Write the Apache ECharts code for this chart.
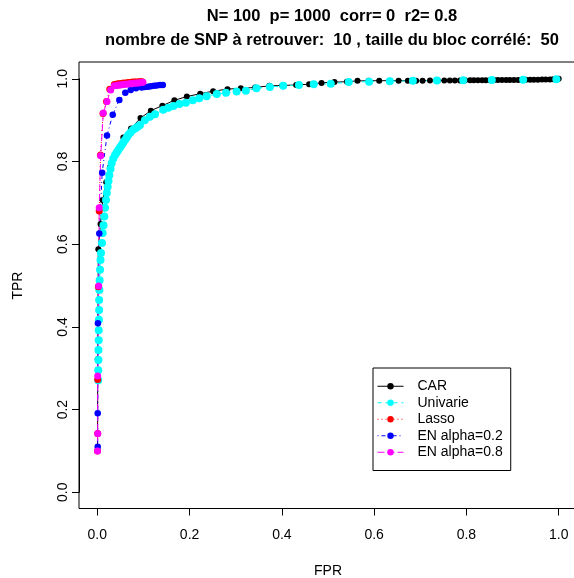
<!DOCTYPE html>
<html>
<head>
<meta charset="utf-8">
<script src="https://cdn.jsdelivr.net/npm/echarts@6/dist/echarts.min.js"></script>
<style>html,body{margin:0;padding:0;background:#fff;}#c{width:574px;height:578px;}</style>
</head>
<body>
<div id="c"></div>
<script>
var titleLines = ['N= 100  p= 1000  corr= 0  r2= 0.8', 'nombre de SNP \u00e0 retrouver:  10 , taille du bloc corr\u00e9l\u00e9:  50'];
var xTickLabels = ['0.0','0.2','0.4','0.6','0.8','1.0'];
var yTickLabels = ['0.0','0.2','0.4','0.6','0.8','1.0'];
var seriesNames = ['CAR','Univarie','Lasso','EN alpha=0.2','EN alpha=0.8'];

var carX = [0.0004,0.0009,0.0022,0.007,0.0117,0.0193,0.0275,0.0401,0.0564,0.073,0.0936,0.116,0.141,0.167,0.194,0.223,0.251,0.282,0.311,0.342,0.373,0.401,0.431,0.459,0.486,0.514,0.541,0.564,0.588,0.611,0.633,0.653,0.673,0.691,0.705,0.721,0.738,0.752,0.764,0.775,0.786,0.797,0.808,0.816,0.825,0.834,0.842,0.851,0.860,0.868,0.877,0.886,0.894,0.903,0.912,0.920,0.929,0.938,0.946,0.955,0.964,0.972,0.981,0.988,1.0];
var carY = [0.100,0.322,0.588,0.649,0.706,0.750,0.786,0.821,0.858,0.880,0.905,0.923,0.935,0.948,0.957,0.964,0.970,0.975,0.977,0.979,0.983,0.984,0.985,0.987,0.990,0.992,0.993,0.995,0.9952,0.9954,0.9954,0.9954,0.9954,0.9954,0.9955,0.9956,0.9956,0.9958,0.9958,0.996,0.996,0.9962,0.9962,0.9963,0.9964,0.9965,0.9966,0.9967,0.9968,0.9969,0.997,0.9971,0.9972,0.9973,0.9974,0.9975,0.9976,0.9977,0.9978,0.998,0.9982,0.9984,0.9985,0.9987,1.0];

var uniX = [0.002,0.002,0.0025,0.0025,0.003,0.003,0.0035,0.004,0.004,0.0045,0.005,0.006,0.007,0.008,0.0102,0.0117,0.0134,0.0152,0.0167,0.0189,0.0206,0.0225,0.0243,0.026,0.0286,0.0312,0.0347,0.0384,0.042,0.0455,0.0492,0.0529,0.0564,0.060,0.0637,0.0672,0.072,0.0767,0.0821,0.0876,0.0925,0.103,0.114,0.125,0.143,0.154,0.165,0.178,0.192,0.207,0.221,0.237,0.259,0.279,0.302,0.322,0.345,0.374,0.403,0.437,0.469,0.506,0.545,0.589,0.634,0.684,0.736,0.793,0.855,0.923,0.995];
var uniY = [0.271,0.295,0.320,0.344,0.368,0.392,0.417,0.441,0.465,0.489,0.513,0.538,0.562,0.579,0.603,0.627,0.646,0.667,0.688,0.707,0.724,0.739,0.753,0.767,0.782,0.796,0.807,0.816,0.822,0.828,0.834,0.840,0.846,0.852,0.858,0.864,0.870,0.876,0.880,0.884,0.888,0.900,0.908,0.914,0.925,0.930,0.934,0.939,0.942,0.948,0.953,0.958,0.963,0.966,0.969,0.971,0.977,0.980,0.983,0.985,0.987,0.988,0.992,0.993,0.994,0.995,0.996,0.9966,0.997,0.9978,0.9988];

var lasX = [0.0004,0.0009,0.0009,0.0022,0.0041,0.007,0.0124,0.020,0.027,0.0368,0.041,0.045,0.049,0.054,0.058,0.063,0.067,0.072,0.076,0.081,0.085,0.090,0.094,0.097];
var lasY = [0.100,0.142,0.273,0.497,0.680,0.816,0.916,0.945,0.975,0.986,0.987,0.988,0.988,0.989,0.990,0.990,0.991,0.991,0.992,0.992,0.9925,0.993,0.993,0.993];

var en2X = [0.0009,0.0009,0.0013,0.0043,0.0106,0.021,0.0334,0.0477,0.0607,0.0724,0.0839,0.0962,0.103,0.110,0.116,0.123,0.129,0.136,0.142];
var en2Y = [0.110,0.191,0.409,0.626,0.773,0.863,0.913,0.949,0.966,0.973,0.977,0.979,0.980,0.981,0.982,0.983,0.984,0.985,0.985];

var en8X = [0.0004,0.0009,0.0009,0.003,0.0041,0.0074,0.013,0.021,0.029,0.0368,0.043,0.047,0.051,0.056,0.060,0.064,0.069,0.073,0.077,0.082,0.086,0.090,0.095,0.099];
var en8Y = [0.100,0.142,0.281,0.499,0.688,0.814,0.917,0.945,0.973,0.983,0.984,0.985,0.985,0.986,0.987,0.987,0.988,0.988,0.989,0.989,0.990,0.990,0.991,0.9915];

function zip(a, b) { return a.map(function (v, i) { return [v, b[i]]; }); }

var FONT = 'Liberation Sans, Arial, sans-serif';
var chart = echarts.init(document.getElementById('c'), null, {renderer: 'canvas'});

function mk(name, xs, ys, color, dash, size) {
  return {
    name: name, type: 'line', data: zip(xs, ys), clip: false,
    symbol: 'circle', symbolSize: size, showSymbol: true,
    itemStyle: {color: color, borderWidth: 0},
    lineStyle: {color: color, width: 1, type: dash},
    emphasis: {disabled: true}, z: 2
  };
}

chart.setOption({
  animation: false,
  backgroundColor: '#fff',
  grid: {left: 97.3, top: 78.8, width: 461.4, height: 413.5, containLabel: false, outerBoundsMode: 'none'},
  xAxis: {
    type: 'value', min: 0, max: 1, interval: 0.2, offset: 16.2,
    axisLine: {show: true, onZero: false, lineStyle: {color: '#000', width: 1}},
    axisTick: {show: true, length: 7, lineStyle: {color: '#000'}},
    splitLine: {show: false},
    axisLabel: {margin: 20, fontSize: 14, fontFamily: FONT, color: '#000',
      formatter: function (v) { return xTickLabels[Math.round(v / 0.2)]; }},
    name: 'FPR', nameLocation: 'middle', nameGap: 56,
    nameTextStyle: {fontSize: 14, fontFamily: FONT, color: '#000'}
  },
  yAxis: {
    type: 'value', min: 0, max: 1, interval: 0.2, offset: 18.3,
    axisLine: {show: true, onZero: false, lineStyle: {color: '#000', width: 1}},
    axisTick: {show: true, length: 7, lineStyle: {color: '#000'}},
    splitLine: {show: false},
    axisLabel: {margin: 9, rotate: 90, fontSize: 14, fontFamily: FONT, color: '#000',
      formatter: function (v) { return yTickLabels[Math.round(v / 0.2)]; }},
    name: 'TPR', nameLocation: 'middle', nameGap: 54,
    nameTextStyle: {fontSize: 14, fontFamily: FONT, color: '#000'}
  },
  legend: {
    orient: 'vertical', left: 373, top: 368,
    padding: [10, 8, 10, 4], itemGap: 0, itemWidth: 26, itemHeight: 8,
    borderColor: '#000', borderWidth: 1, backgroundColor: '#fff',
    lineStyle: {width: 1},
    textStyle: {fontSize: 14, fontFamily: FONT, color: '#000', lineHeight: 16.5, padding: [0, 0, 0, 9]},
    data: seriesNames, selectedMode: false
  },
  graphic: [
    {type: 'rect', shape: {x: 79, y: 62, width: 498, height: 446.5},
     style: {fill: null, stroke: '#000', lineWidth: 1}, silent: true, z: 1},
    {type: 'text', x: 332, y: 8, style: {text: titleLines[0], font: 'bold 16.5px ' + FONT, fill: '#000', align: 'center'}},
    {type: 'text', x: 332, y: 32, style: {text: titleLines[1], font: 'bold 16.5px ' + FONT, fill: '#000', align: 'center'}}
  ],
  series: [
    mk(seriesNames[0], carX, carY, '#000000', 'solid', 6),
    mk(seriesNames[1], uniX, uniY, '#00FFFF', [4, 4], 8),
    mk(seriesNames[2], lasX, lasY, '#FF0000', [1, 3], 7),
    mk(seriesNames[3], en2X, en2Y, '#0000FF', [1, 3, 4, 3], 6.5),
    mk(seriesNames[4], en8X, en8Y, '#FF00FF', [7, 3], 7)
  ]
});
</script>
</body>
</html>
